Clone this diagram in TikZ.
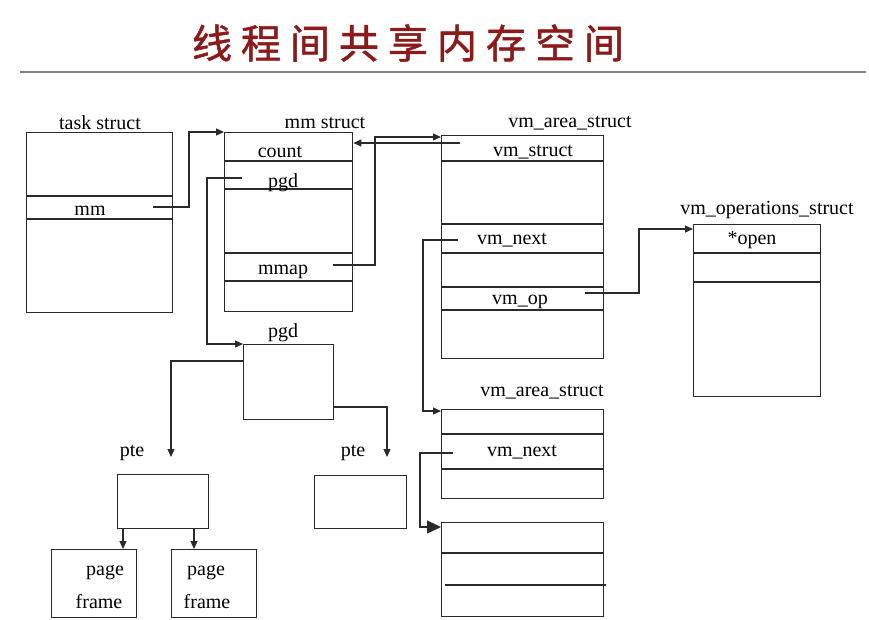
\documentclass[tikz,border=0pt]{standalone}
\usepackage{fontspec}
\setmainfont{Liberation Serif}
\newfontfamily\cjk[FakeBold=1.3]{Noto Sans CJK SC}
\usetikzlibrary{arrows.meta}
\definecolor{titlered}{HTML}{8B1A1A}
\definecolor{ink}{HTML}{2A2A2A}
\begin{document}
\begin{tikzpicture}[x=1pt,y=-1pt,
  box/.style={draw=ink, line width=1.3pt, inner sep=0pt, anchor=north west, rectangle},
  lbl/.style={inner sep=0pt, font=\fontsize{20}{22}\selectfont, text=black},
  div/.style={draw=ink, line width=1.2pt},
  arr/.style={draw=ink, line width=1.2pt, -{Triangle[length=8pt,width=7pt]}},
  bigarr/.style={draw=ink, line width=1.2pt, -{Triangle[length=14pt,width=13pt]}},
  wire/.style={draw=ink, line width=1.2pt}]
\useasboundingbox (0,0) rectangle (869,619);
% title
\node[inner sep=0pt, text=titlered, font=\cjk\fontsize{40}{42}\selectfont] (title) at (408,43)
  {线\hspace{9pt}程\hspace{9pt}间\hspace{9pt}共\hspace{9pt}享\hspace{9pt}内\hspace{9pt}存\hspace{9pt}空\hspace{9pt}间};
\coordinate (rl) at (20,72);
\coordinate (rr) at (866,72);
\draw[draw=gray, line width=1.5pt] (rl) -- (rr);

% boxes
\node[box, minimum width=146pt, minimum height=180pt] (task) at (26,132) {};
\node[box, minimum width=128pt, minimum height=179pt] (mm) at (224,132) {};
\node[box, minimum width=162pt, minimum height=223pt] (vma1) at (441,135) {};
\node[box, minimum width=127pt, minimum height=172pt] (vmops) at (693,224) {};
\node[box, minimum width=162pt, minimum height=89pt] (vma2) at (441,409) {};
\node[box, minimum width=162pt, minimum height=94pt] (vma3) at (441,522) {};
\node[box, minimum width=90pt, minimum height=75pt] (pgdbox) at (243,344) {};
\node[box, minimum width=91pt, minimum height=54pt] (pte1) at (117,474) {};
\node[box, minimum width=92pt, minimum height=53pt] (pte2) at (314,475) {};
\node[box, minimum width=85pt, minimum height=68pt] (pf1) at (51,549) {};
\node[box, minimum width=85pt, minimum height=68pt] (pf2) at (171,549) {};

% dividers
\foreach \yy in {196,219} \draw[div] (task.west |- 0,\yy) -- (task.east |- 0,\yy);
\foreach \yy in {161,189,253,281} \draw[div] (mm.west |- 0,\yy) -- (mm.east |- 0,\yy);
\foreach \yy in {161,224,253,287,310} \draw[div] (vma1.west |- 0,\yy) -- (vma1.east |- 0,\yy);
\foreach \yy in {253,282} \draw[div] (vmops.west |- 0,\yy) -- (vmops.east |- 0,\yy);
\foreach \yy in {434,469} \draw[div] (vma2.west |- 0,\yy) -- (vma2.east |- 0,\yy);
\draw[div] (vma3.west |- 0,553) -- (vma3.east |- 0,553);
\draw[div] (445,585) -- (606,585);

% titles of boxes
\node[lbl] (ltask) at (100,123) {task struct};
\node[lbl] (lmm) at (325,123) {mm struct};
\node[lbl] (lvma1) at (570,123) {vm\_area\_struct};
\node[lbl] (lvmops) at (767,210) {vm\_operations\_struct};
\node[lbl] (lvma2) at (542,392) {vm\_area\_struct};
\node[lbl] (lpgd) at (283,333) {pgd};
\node[lbl] (lpte1) at (132,453) {pte};
\node[lbl] (lpte2) at (353,453) {pte};

% fields
\node[lbl] (fmm) at (90,211) {mm};
\node[lbl] (fcount) at (280,152) {count};
\node[lbl] (fpgd) at (283,183) {pgd};
\node[lbl] (fmmap) at (283,272) {mmap};
\node[lbl] (fvms) at (533,152) {vm\_struct};
\node[lbl] (fnext1) at (512,240) {vm\_next};
\node[lbl] (fop) at (520,302) {vm\_op};
\node[lbl] (fopen) at (752,240) {*open};
\node[lbl] (fnext2) at (522,452) {vm\_next};
\node[lbl] (pg1) at (105,573) {page};
\node[lbl] (fr1) at (99,602) {frame};
\node[lbl] (pg2) at (206,573) {page};
\node[lbl] (fr2) at (207,602) {frame};

% connector start points
\coordinate (smm) at (153,207);
\coordinate (spgd) at (242,178);
\coordinate (smmap) at (333,265);
\coordinate (svms) at (460,143);
\coordinate (snext1) at (458,240);
\coordinate (sop) at (585,293);
\coordinate (snext2) at (453,453);

% connectors
\draw[arr] (smm) -- (189,207) |- (mm.north west);
\draw[arr] (spgd) -- (207,178) |- (pgdbox.north west);
\draw[arr] (smmap) -- (375,265) |- ([yshift=-2pt]vma1.north west);
\draw[arr] (svms) -- (svms -| mm.east);
\draw[arr] (snext1) -- (423,240) |- ([yshift=-2pt]vma2.north west);
\draw[arr] (sop) -- (639,293) |- ([yshift=-5pt]vmops.north west);
\draw[bigarr] (snext2) -- (420,453) |- ([yshift=-5pt]vma3.north west);
\draw[arr] ([yshift=-17pt]pgdbox.north west) -| (171,457);
\draw[arr] ([yshift=-63pt]pgdbox.north east) -| (387,457);
\draw[arr] (pte1.south -| 123,0) -- (pf1.north -| 123,0);
\draw[arr] (pte1.south -| 194,0) -- (pf2.north -| 194,0);
\end{tikzpicture}
\end{document}
